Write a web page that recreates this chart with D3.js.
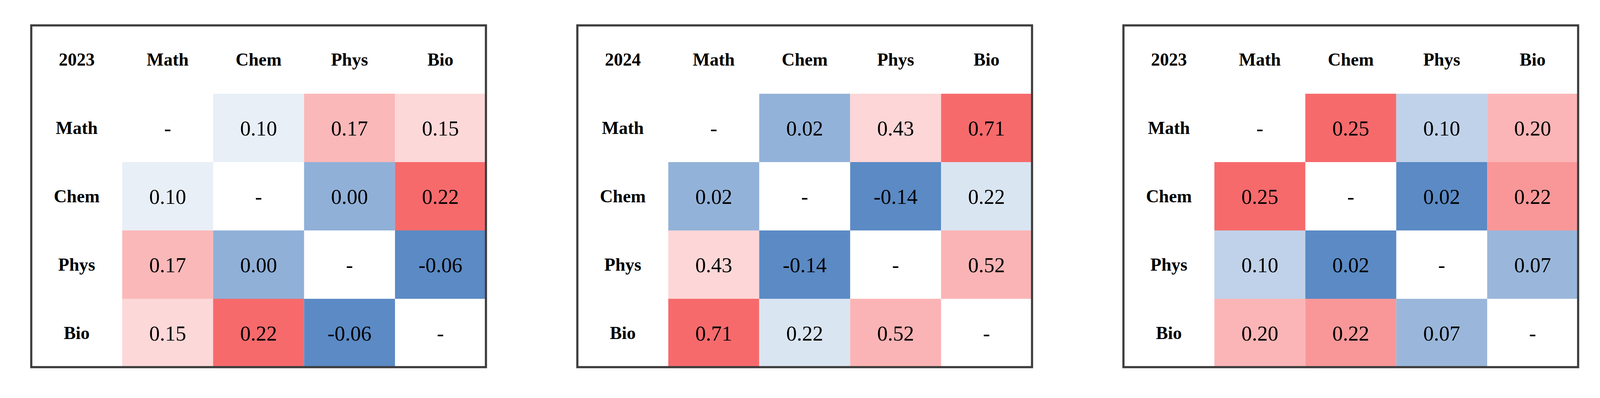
<!DOCTYPE html>
<html>
<head>
<meta charset="utf-8">
<script src="https://cdn.jsdelivr.net/npm/d3@7"></script>
<style>
  body { margin: 0; background: #fff; }
  svg { display: block; }
</style>
</head>
<body>
<svg id="chart" width="4106" height="1019"></svg>
<script>
const subjects = ["Math", "Chem", "Phys", "Bio"];
const titles = ["2023", "2024", "2023"];

// correlation matrices, null on the diagonal
const corr2023a = [
  [null, 0.10, 0.17, 0.15],
  [0.10, null, 0.00, 0.22],
  [0.17, 0.00, null, -0.06],
  [0.15, 0.22, -0.06, null]
];
const corr2024 = [
  [null, 0.02, 0.43, 0.71],
  [0.02, null, -0.14, 0.22],
  [0.43, -0.14, null, 0.52],
  [0.71, 0.22, 0.52, null]
];
const corr2023b = [
  [null, 0.25, 0.10, 0.20],
  [0.25, null, 0.02, 0.22],
  [0.10, 0.02, null, 0.07],
  [0.20, 0.22, 0.07, null]
];
const matrices = [corr2023a, corr2024, corr2023b];

const svg = d3.select("#chart");

const panelW = 1164,
  panelH = 875,
  panelTop = 65,
  panelX = d3.scaleLinear().domain([0, 1]).range([80, 1478]);

const x = d3.scaleBand().domain(["", ...subjects]).range([0, panelW]);
const y = d3.scaleBand().domain(["", ...subjects]).range([0, panelH]);

const colors = ["#5b8ac5", "#ffffff", "#f76a6c"];

matrices.forEach((m, p) => {
  const cells = [];
  m.forEach((row, i) =>
    row.forEach((v, j) => cells.push({ r: subjects[i], c: subjects[j], v }))
  );
  const vals = cells.filter((d) => d.v !== null).map((d) => d.v);

  const color = d3
    .scaleDiverging()
    .domain([d3.min(vals), d3.median(vals), d3.max(vals)])
    .interpolator(d3.piecewise(d3.interpolateRgb, colors));

  const g = svg.append("g").attr("transform", `translate(${panelX(p)},${panelTop})`);

  g.selectAll(".cell")
    .data(cells.filter((d) => d.v !== null))
    .enter()
    .append("rect")
    .attr("class", "cell")
    .attr("x", (d) => x(d.c))
    .attr("y", (d) => y(d.r))
    .attr("width", x.bandwidth())
    .attr("height", y.bandwidth())
    .attr("fill", (d) => color(d.v));

  g.selectAll(".val")
    .data(cells)
    .enter()
    .append("text")
    .attr("class", "val")
    .attr("x", (d) => x(d.c) + x.bandwidth() / 2)
    .attr("y", (d) => y(d.r) + y.bandwidth() / 2)
    .attr("dy", "0.37em")
    .attr("text-anchor", "middle")
    .style("font", "54px 'Liberation Serif', serif")
    .text((d) => (d.v === null ? "-" : d.v.toFixed(2)));

  // header row (title + column names) and row labels
  const heads = [{ k: "", t: titles[p], row: true }]
    .concat(subjects.map((s) => ({ k: s, t: s, row: true })))
    .concat(subjects.map((s) => ({ k: s, t: s, row: false })));

  g.selectAll(".head")
    .data(heads)
    .enter()
    .append("text")
    .attr("class", "head")
    .attr("x", (d) => (d.row ? x(d.k) : x("")) + x.bandwidth() / 2)
    .attr("y", (d) => (d.row ? y("") : y(d.k)) + y.bandwidth() / 2)
    .attr("dy", "0.34em")
    .attr("text-anchor", "middle")
    .style("font", "bold 46px 'Liberation Serif', serif")
    .text((d) => d.t);

  g.append("rect")
    .attr("width", panelW)
    .attr("height", panelH)
    .attr("fill", "none")
    .attr("stroke", "#3d3d3d")
    .attr("stroke-width", 5.5);
});
</script>
</body>
</html>
